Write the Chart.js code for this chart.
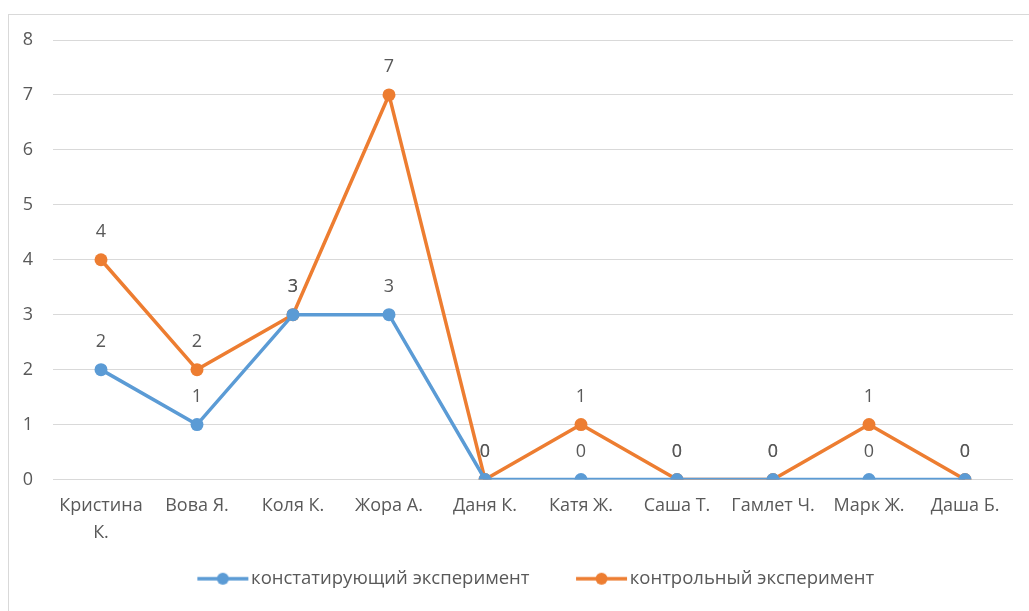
<!DOCTYPE html>
<html>
<head>
<meta charset="utf-8">
<script src="https://cdn.jsdelivr.net/npm/chart.js@4.4.1/dist/chart.umd.min.js"></script>
<style>
  html, body { margin: 0; padding: 0; background: #ffffff; }
  #wrap { position: relative; width: 1029px; height: 611px; overflow: hidden; }
  canvas { position: absolute; left: 0; top: 0; }
</style>
</head>
<body>
<div id="wrap"><canvas id="chart" width="1029" height="611"></canvas></div>
<script>
// Pupils and their scores in the two experiment stages
const pupils = [['Кристина', 'К.'], 'Вова Я.', 'Коля К.', 'Жора А.', 'Даня К.', 'Катя Ж.', 'Саша Т.', 'Гамлет Ч.', 'Марк Ж.', 'Даша Б.'];
const ascertainingScores = [2, 1, 3, 3, 0, 0, 0, 0, 0, 0];
const controlScores = [4, 2, 3, 7, 0, 1, 0, 0, 1, 0];
const seriesNames = ['констатирующий эксперимент', 'контрольный эксперимент'];
const yTicks = [0, 1, 2, 3, 4, 5, 6, 7, 8];

const BLUE = '#5b9bd5';
const ORANGE = '#ed7d31';
const TEXT = '#595959';
const GRID = '#d9d9d9';
const FONT = '"Open Sans", "Noto Sans", sans-serif';

// Legend marker: blank lead-in, then a short line with a dot in the middle.
// The canvas is wider than the legend box so the line sits close to the text.
const LEAD = 26;
const MARK_BOX = LEAD + 43;
function markerImage(color) {
  const c = document.createElement('canvas');
  c.width = MARK_BOX + 15; c.height = 16;
  const g = c.getContext('2d');
  const x0 = c.width - 52, x1 = c.width - 1;
  g.strokeStyle = color; g.lineWidth = 3.5;
  g.beginPath(); g.moveTo(x0, 8); g.lineTo(x1, 8); g.stroke();
  g.fillStyle = color;
  g.beginPath(); g.arc((x0 + x1) / 2, 8, 6, 0, Math.PI * 2); g.fill();
  return c;
}

// Thin frame around the chart
const framePlugin = {
  id: 'frame',
  beforeDraw(chart) {
    const ctx = chart.ctx;
    ctx.save();
    ctx.strokeStyle = GRID;
    ctx.lineWidth = 1;
    ctx.strokeRect(8.5, 14.5, 1100, 700);
    ctx.restore();
  }
};

// Nudge the legend row a little to the right of the canvas centre
const legendShift = {
  id: 'legendShift',
  afterLayout(chart) {
    if (chart.legend) {
      chart.legend.left += 9;
      chart.legend.right += 9;
    }
  }
};

// Value labels above every point
const valueLabels = {
  id: 'valueLabels',
  afterDatasetsDraw(chart) {
    const ctx = chart.ctx;
    ctx.save();
    ctx.font = '18px ' + FONT;
    ctx.fillStyle = TEXT;
    ctx.textAlign = 'center';
    ctx.textBaseline = 'middle';
    chart.data.datasets.forEach((ds, i) => {
      const meta = chart.getDatasetMeta(i);
      meta.data.forEach((pt, j) => {
        ctx.fillText(String(ds.data[j]), pt.x, pt.y - 28);
      });
    });
    ctx.restore();
  }
};

new Chart(document.getElementById('chart'), {
  type: 'line',
  data: {
    labels: pupils,
    datasets: [
      {
        label: seriesNames[0],
        data: ascertainingScores,
        borderColor: BLUE,
        backgroundColor: BLUE,
        borderWidth: 3.5,
        pointRadius: 6.5,
        pointHoverRadius: 6.5,
        pointBackgroundColor: BLUE,
        pointBorderWidth: 0,
        tension: 0,
        pointStyle: 'circle'
      },
      {
        label: seriesNames[1],
        data: controlScores,
        borderColor: ORANGE,
        backgroundColor: ORANGE,
        borderWidth: 3.5,
        pointRadius: 6.5,
        pointHoverRadius: 6.5,
        pointBackgroundColor: ORANGE,
        pointBorderWidth: 0,
        tension: 0,
        pointStyle: 'circle'
      }
    ]
  },
  options: {
    responsive: false,
    animation: false,
    layout: { padding: { top: 40, right: 16, left: 16, bottom: 13 } },
    scales: {
      x: {
        offset: true,
        grid: { display: false, drawTicks: false },
        border: { display: false },
        ticks: {
          color: TEXT,
          font: { family: FONT, size: 18, lineHeight: 1.5 },
          padding: 13,
          maxRotation: 0,
          autoSkip: false
        },
        afterFit(scale) { scale.height = 68; }
      },
      y: {
        min: 0,
        max: 8,
        afterBuildTicks(scale) { scale.ticks = yTicks.map(v => ({ value: v })); },
        grid: { color: GRID, lineWidth: 1, drawTicks: false },
        border: { display: false },
        ticks: {
          color: TEXT,
          font: { family: FONT, size: 18 },
          padding: 20
        },
        afterFit(scale) { scale.width = 37; }
      }
    },
    plugins: {
      tooltip: { enabled: false },
      legend: {
        position: 'bottom',
        labels: {
          color: TEXT,
          font: { family: FONT, size: 18.5 },
          usePointStyle: true,
          pointStyleWidth: MARK_BOX,
          padding: 22,
          generateLabels(chart) {
            return chart.data.datasets.map((ds, i) => ({
              text: ds.label,
              fillStyle: ds.borderColor,
              strokeStyle: ds.borderColor,
              lineWidth: 0,
              pointStyle: markerImage(ds.borderColor),
              hidden: false,
              datasetIndex: i,
              fontColor: TEXT
            }));
          }
        }
      }
    }
  },
  plugins: [framePlugin, legendShift, valueLabels]
});
</script>
</body>
</html>
